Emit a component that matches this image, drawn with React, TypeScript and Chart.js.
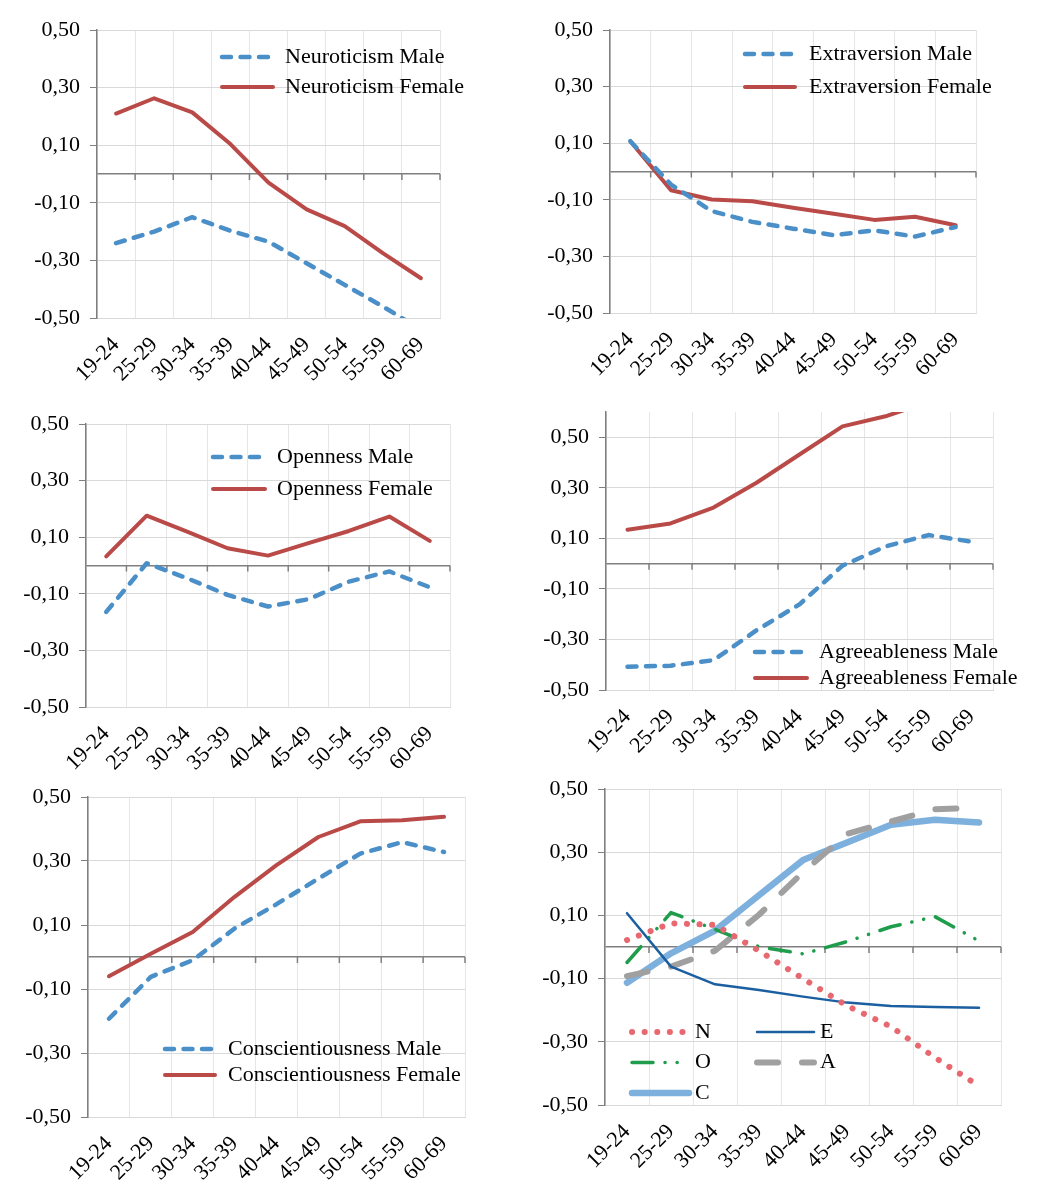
import { Chart, registerables } from "chart.js";
import { useEffect, useRef } from "react";

Chart.register(...registerables);

const ageGroups = ["19-24", "25-29", "30-34", "35-39", "40-44", "45-49", "50-54", "55-59", "60-69"];
const yTicks = [-0.5, -0.3, -0.1, 0, 0.1, 0.3, 0.5];

const neuroticismMale = [-0.24, -0.2, -0.15, -0.197, -0.235, -0.31, -0.385, -0.46, -0.54];
const neuroticismFemale = [0.21, 0.263, 0.214, 0.104, -0.03, -0.123, -0.181, -0.275, -0.362];
const extraversionMale = [0.107, -0.046, -0.14, -0.178, -0.202, -0.225, -0.208, -0.23, -0.196];
const extraversionFemale = [0.107, -0.066, -0.099, -0.105, -0.128, -0.149, -0.171, -0.16, -0.19];
const opennessMale = [-0.164, 0.008, -0.045, -0.104, -0.145, -0.119, -0.057, -0.021, -0.077];
const opennessFemale = [0.032, 0.176, 0.12, 0.061, 0.035, 0.079, 0.122, 0.173, 0.087];
const agreeablenessMale = [-0.408, -0.404, -0.382, -0.264, -0.161, -0.008, 0.068, 0.113, 0.087];
const agreeablenessFemale = [0.134, 0.159, 0.222, 0.32, 0.432, 0.543, 0.583, 0.64, 0.63];
const conscientiousnessMale = [-0.193, -0.062, -0.01, 0.089, 0.165, 0.245, 0.323, 0.359, 0.328];
const conscientiousnessFemale = [-0.06, 0.01, 0.078, 0.188, 0.287, 0.375, 0.424, 0.427, 0.438];

const nAll = [0.022, 0.075, 0.07, -0.012, -0.1, -0.186, -0.252, -0.35, -0.44];
const eAll = [0.107, -0.062, -0.118, -0.136, -0.157, -0.176, -0.187, -0.19, -0.192];
const oAll = [-0.049, 0.109, 0.056, 0.001, -0.022, 0.017, 0.064, 0.096, 0.019];
const aAll = [-0.092, -0.062, -0.012, 0.102, 0.237, 0.358, 0.397, 0.436, 0.44];
const cAll = [-0.113, -0.02, 0.052, 0.164, 0.275, 0.331, 0.387, 0.403, 0.394];

const FONT = '"Liberation Serif", "Times New Roman", serif';
const Y_AXIS_W = 100;
const X_AXIS_H = 80;
const PAD_TOP = 24;
const PAD_RIGHT = 30;

type Series = {
  label: string;
  data: number[];
  color: string;
  width: number;
  dash: number[];
};

type LegendCfg = { x: number; y: number; rowH: number; colW: number; cols: number; sample: number; gap: number };

const male = (label: string, data: number[]): Series => ({ label, data, color: "#4a8fc7", width: 4.5, dash: [9, 9.5] });
const female = (label: string, data: number[]): Series => ({ label, data, color: "#b94a48", width: 4, dash: [] });

const fmt = (v: number) => v.toFixed(2).replace(".", ",");

// short marks hanging under the zero line, between categories
const zeroTicks = {
  id: "zeroTicks",
  beforeDatasetsDraw(chart: any) {
    const { ctx, scales } = chart;
    const x = scales.x;
    const y0 = scales.y.getPixelForValue(0);
    const half = (x.getPixelForValue(1) - x.getPixelForValue(0)) / 2;
    ctx.save();
    ctx.strokeStyle = "#7f7f7f";
    ctx.lineWidth = 1.5;
    ageGroups.forEach((_, i) => {
      const px = x.getPixelForValue(i) + half;
      ctx.beginPath();
      ctx.moveTo(px, y0);
      ctx.lineTo(px, y0 + 6);
      ctx.stroke();
    });
    ctx.restore();
  },
};

const insideLegend = {
  id: "insideLegend",
  afterDraw(chart: any, _args: any, opts: LegendCfg) {
    const { ctx, chartArea } = chart;
    ctx.save();
    chart.data.datasets.forEach((ds: any, i: number) => {
      const col = i % opts.cols;
      const row = Math.floor(i / opts.cols);
      const x0 = chartArea.left + opts.x + col * opts.colW;
      const yy = chartArea.top + opts.y + row * opts.rowH;
      ctx.beginPath();
      ctx.setLineDash(ds.borderDash || []);
      ctx.lineCap = "round";
      ctx.lineWidth = ds.borderWidth;
      ctx.strokeStyle = ds.borderColor;
      ctx.moveTo(x0, yy);
      ctx.lineTo(x0 + opts.sample, yy);
      ctx.stroke();
      ctx.setLineDash([]);
      ctx.fillStyle = "#000";
      ctx.font = `22px ${FONT}`;
      ctx.textBaseline = "middle";
      ctx.textAlign = "left";
      ctx.fillText(ds.label, x0 + opts.sample + opts.gap, yy);
    });
    ctx.restore();
  },
};

type PanelProps = {
  left: number;
  top: number;
  right: number;
  bottom: number;
  yMax: number;
  series: Series[];
  legend: LegendCfg;
};

const Panel = ({ left, top, right, bottom, yMax, series, legend }: PanelProps) => {
  const chartRef = useRef<HTMLCanvasElement | null>(null);

  useEffect(() => {
    if (!chartRef.current) return;
    const chartInstance = new Chart(chartRef.current, {
      type: "line",
      data: {
        labels: ageGroups,
        datasets: series.map((s) => ({
          label: s.label,
          data: s.data,
          borderColor: s.color,
          borderWidth: s.width,
          borderDash: s.dash,
          borderCapStyle: "round",
          borderJoinStyle: "round",
          pointRadius: 0,
          pointHoverRadius: 0,
          fill: false,
          tension: 0,
          clip: 0,
        })),
      },
      options: {
        responsive: true,
        maintainAspectRatio: false,
        animation: false,
        events: [],
        layout: { padding: { top: PAD_TOP, right: PAD_RIGHT, left: 0, bottom: 0 } },
        plugins: {
          legend: { display: false },
          tooltip: { enabled: false },
          insideLegend: legend,
        } as any,
        scales: {
          x: {
            offset: true,
            grid: { offset: true, color: "#e6e6e6", lineWidth: 1, drawTicks: false },
            border: { color: "#d9d9d9" },
            ticks: {
              autoSkip: false,
              minRotation: 45,
              maxRotation: 45,
              padding: 14,
              color: "#000",
              font: { family: FONT, size: 22 },
            },
            afterFit: (s: any) => {
              s.height = X_AXIS_H;
            },
          },
          y: {
            min: -0.5,
            max: yMax,
            afterBuildTicks: (s: any) => {
              s.ticks = yTicks.map((v) => ({ value: v }));
            },
            grid: {
              color: (c: any) => (c.tick && c.tick.value === 0 ? "#7f7f7f" : "#d9d9d9"),
              lineWidth: (c: any) => (c.tick && c.tick.value === 0 ? 1.5 : 1),
              tickColor: (c: any) => (c.tick && c.tick.value === 0 ? "rgba(0,0,0,0)" : "#7f7f7f"),
              tickLength: 7,
            },
            border: { color: "#7f7f7f", width: 1.5 },
            ticks: {
              padding: 10,
              color: "#000",
              font: { family: FONT, size: 22 },
              callback: (v: any) => (Number(v) === 0 ? "" : fmt(Number(v))),
            },
            afterFit: (s: any) => {
              s.width = Y_AXIS_W;
            },
          },
        },
      },
      plugins: [zeroTicks, insideLegend],
    });

    return () => {
      chartInstance.destroy();
    };
  }, []);

  return (
    <div
      style={{
        position: "absolute",
        left: left - Y_AXIS_W,
        top: top - PAD_TOP,
        width: right - left + Y_AXIS_W + PAD_RIGHT,
        height: bottom - top + PAD_TOP + X_AXIS_H,
      }}
    >
      <canvas ref={chartRef} />
    </div>
  );
};

const App = () => {
  return (
    <div style={{ position: "absolute", left: 0, top: 0, width: 1039, height: 1200, background: "#fff" }}>
      <Panel
        left={97}
        top={30}
        right={440}
        bottom={318}
        yMax={0.5}
        series={[male("Neuroticism Male", neuroticismMale), female("Neuroticism Female", neuroticismFemale)]}
        legend={{ x: 125, y: 27, rowH: 30, colW: 0, cols: 1, sample: 51, gap: 12 }}
      />
      <Panel
        left={610}
        top={30}
        right={976}
        bottom={313}
        yMax={0.5}
        series={[male("Extraversion Male", extraversionMale), female("Extraversion Female", extraversionFemale)]}
        legend={{ x: 135, y: 24, rowH: 33, colW: 0, cols: 1, sample: 50, gap: 14 }}
      />
      <Panel
        left={86}
        top={424}
        right={450}
        bottom={707}
        yMax={0.5}
        series={[male("Openness Male", opennessMale), female("Openness Female", opennessFemale)]}
        legend={{ x: 127, y: 33, rowH: 32, colW: 0, cols: 1, sample: 52, gap: 12 }}
      />
      <Panel
        left={606}
        top={412}
        right={993}
        bottom={690}
        yMax={0.6}
        series={[male("Agreeableness Male", agreeablenessMale), female("Agreeableness Female", agreeablenessFemale)]}
        legend={{ x: 149, y: 240, rowH: 26, colW: 0, cols: 1, sample: 52, gap: 12 }}
      />
      <Panel
        left={88}
        top={797}
        right={465}
        bottom={1117}
        yMax={0.5}
        series={[
          male("Conscientiousness Male", conscientiousnessMale),
          female("Conscientiousness Female", conscientiousnessFemale),
        ]}
        legend={{ x: 77, y: 252, rowH: 26, colW: 0, cols: 1, sample: 50, gap: 13 }}
      />
      <Panel
        left={605}
        top={789}
        right={1001}
        bottom={1105}
        yMax={0.5}
        series={[
          { label: "N", data: nAll, color: "#e8686f", width: 6, dash: [0.1, 12.5] },
          { label: "E", data: eAll, color: "#1b5fa0", width: 2.5, dash: [] },
          { label: "O", data: oAll, color: "#1f9d4c", width: 3.5, dash: [21, 12, 0.1, 12, 0.1, 12] },
          { label: "A", data: aAll, color: "#a0a0a0", width: 6, dash: [21, 24] },
          { label: "C", data: cAll, color: "#7eb0dd", width: 6.5, dash: [] },
        ]}
        legend={{ x: 27, y: 243, rowH: 30.5, colW: 125, cols: 2, sample: 57, gap: 6 }}
      />
    </div>
  );
};

export default App;
